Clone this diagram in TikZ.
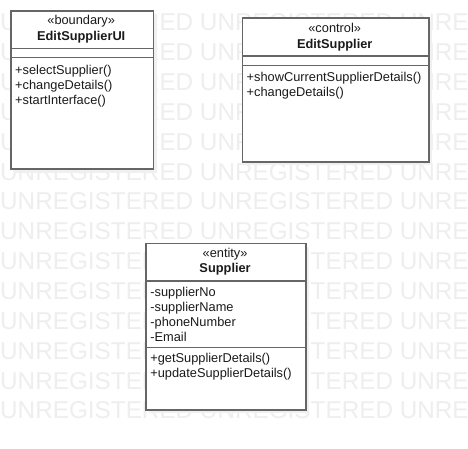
\documentclass[tikz,border=0pt]{standalone}
\usepackage{fontspec}
\setmainfont{Liberation Sans}
\definecolor{wm}{HTML}{EEEEEE}
\definecolor{shd}{HTML}{F0F0F0}
\definecolor{bord}{HTML}{666666}
\definecolor{txt}{HTML}{1A1A1A}
\begin{document}
\begin{tikzpicture}[x=1pt,y=-1pt,
  wmark/.style={anchor=base west,inner sep=0pt,text=wm,font=\fontsize{24.3}{24}\selectfont},
  classbox/.style={draw=bord,line width=1.6pt,fill=white,rectangle,inner sep=0pt,anchor=north west},
  sep/.style={draw=bord,line width=1.6pt},
  shadowbox/.style={fill=shd},
  ster/.style={anchor=base,inner sep=0pt,text=txt,font=\fontsize{12.8}{15}\selectfont},
  cname/.style={anchor=base,inner sep=0pt,text=txt,font=\fontsize{12.8}{15}\selectfont\bfseries},
  member/.style={anchor=base west,inner sep=0pt,text=txt,font=\fontsize{12.8}{15}\selectfont}]
\useasboundingbox (0,0) rectangle (468,449);
\clip (0,0) rectangle (468,449);
\fill[white] (0,0) rectangle (468,449);
% watermark
\foreach \k in {0,...,13}{
  \node[wmark] (wm\k) at (0,{30.8+29.86*\k}) {UNREGISTERED UNREGISTERED UNREGISTERED};
}
% shadows
\fill[shadowbox] (14,14) rectangle (156.5,172.8);
\fill[shadowbox] (245.5,21.5) rectangle (432,165.5);
\fill[shadowbox] (149.2,246.5) rectangle (309,413);
% Box 1
\node[classbox,minimum width=142.5pt,minimum height=158.3pt] (ui) at (10,10) {};
\draw[sep] (10,48.5) -- (152.5,48.5);
\draw[sep] (10,57.5) -- (152.5,57.5);
\node[ster] (uiS) at (81.2,25) {«boundary»};
\node[cname] (uiN) at (81.2,40.7) {EditSupplierUI};
\node[member] (uiO1) at (15,74.5) {+selectSupplier()};
\node[member] (uiO2) at (15,89.5) {+changeDetails()};
\node[member] (uiO3) at (15,104.5) {+startInterface()};
% Box 2
\node[classbox,minimum width=186.5pt,minimum height=144pt] (ct) at (241.5,17.5) {};
\draw[sep] (241.5,56.2) -- (428,56.2);
\draw[sep] (241.5,65.5) -- (428,65.5);
\node[ster] (ctS) at (334.7,33) {«control»};
\node[cname] (ctN) at (334.7,49) {EditSupplier};
\node[member] (ctO1) at (246.5,81.5) {+showCurrentSupplierDetails()};
\node[member] (ctO2) at (246.5,96.5) {+changeDetails()};
% Box 3
\node[classbox,minimum width=159.8pt,minimum height=166.5pt] (en) at (145.2,242.5) {};
\draw[sep] (145.2,281) -- (305,281);
\draw[sep] (145.2,347.5) -- (305,347.5);
\node[ster] (enS) at (225.1,257.5) {«entity»};
\node[cname] (enN) at (225.1,272.5) {Supplier};
\node[member] (enA1) at (150.2,296) {-supplierNo};
\node[member] (enA2) at (150.2,311) {-supplierName};
\node[member] (enA3) at (150.2,326) {-phoneNumber};
\node[member] (enA4) at (150.2,341) {-Email};
\node[member] (enO1) at (150.2,362.5) {+getSupplierDetails()};
\node[member] (enO2) at (150.2,377.5) {+updateSupplierDetails()};
\end{tikzpicture}
\end{document}
